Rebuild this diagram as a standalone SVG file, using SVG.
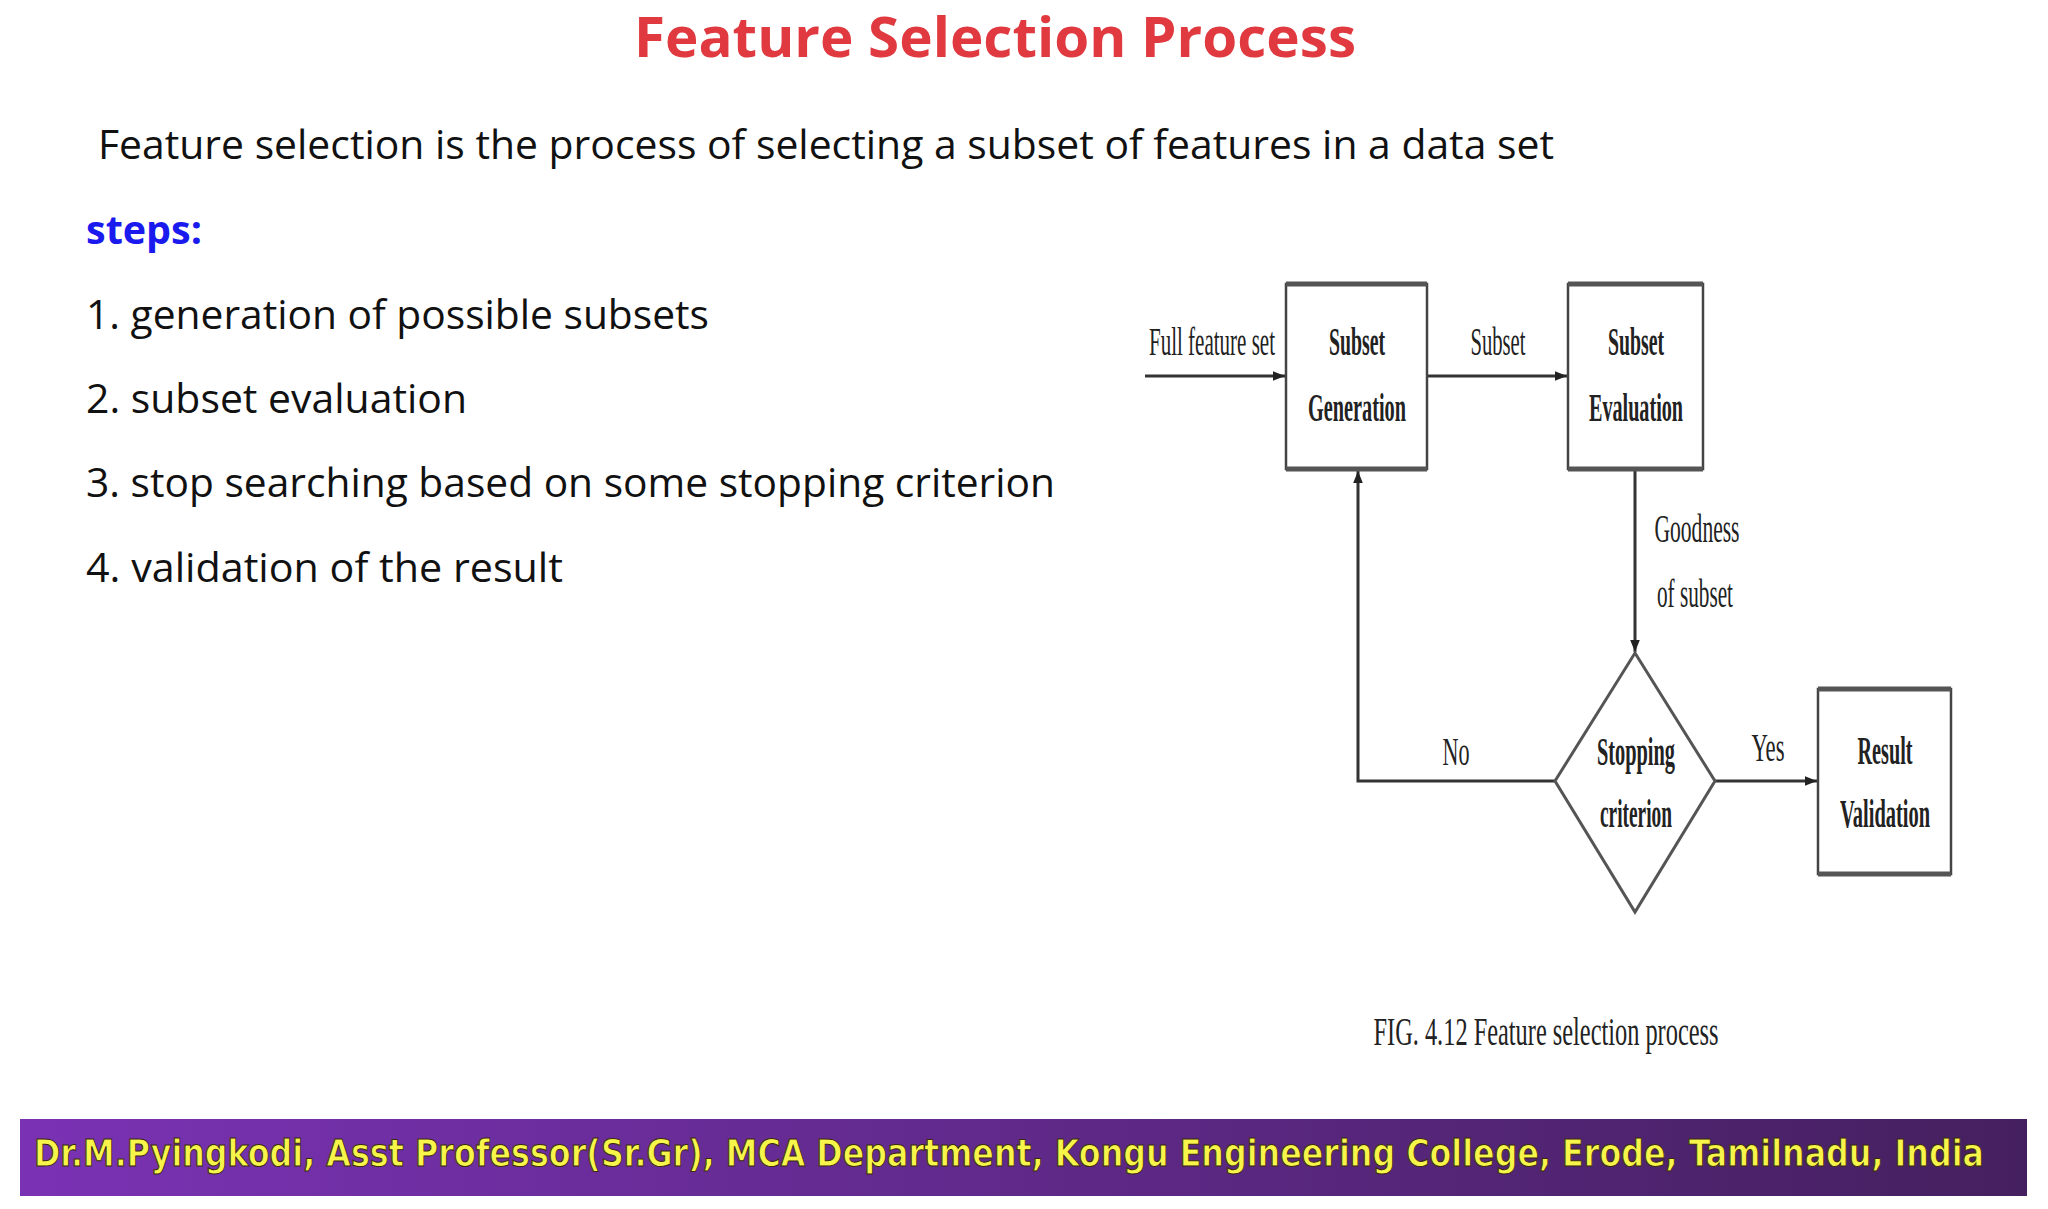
<svg xmlns="http://www.w3.org/2000/svg" width="2048" height="1209" viewBox="0 0 2048 1209">
<defs>
<linearGradient id="band" x1="0" x2="1"><stop offset="0" stop-color="#7a32b4"/><stop offset="1" stop-color="#45205f"/></linearGradient>
<marker id="ah" viewBox="0 0 10 10" refX="10" refY="5" markerWidth="12" markerHeight="12" markerUnits="userSpaceOnUse" orient="auto"><path d="M0,1 L10,5 L0,9 Z" fill="#222"/></marker>
</defs>
<style>
.t{font-family:"Open Sans","Noto Sans",sans-serif;font-size:40px;fill:#111}
.d{font-family:"Liberation Serif",serif;font-size:40px;fill:#222}
.b{font-weight:bold}
.box{fill:#fff;stroke:#444;stroke-width:2.5}
.edge{stroke:#333;fill:none;stroke-width:3}
.thick{stroke:#555;stroke-width:5}
</style>
<rect width="2048" height="1209" fill="#fff"/>
<text x="995" y="57" text-anchor="middle" font-family="Open Sans,Noto Sans,sans-serif" font-weight="bold" font-size="56" fill="#e0393f" textLength="722" lengthAdjust="spacingAndGlyphs">Feature Selection Process</text>
<text class="t" x="98" y="159" textLength="1456" lengthAdjust="spacingAndGlyphs">Feature selection is the process of selecting a subset of features in a data set</text>
<text class="t b" x="86" y="244" style="fill:#1a1aee" textLength="116" lengthAdjust="spacingAndGlyphs">steps:</text>
<text class="t" x="86" y="329" textLength="623" lengthAdjust="spacingAndGlyphs">1. generation of possible subsets</text>
<text class="t" x="86" y="413" textLength="381" lengthAdjust="spacingAndGlyphs">2. subset evaluation</text>
<text class="t" x="86" y="497" textLength="969" lengthAdjust="spacingAndGlyphs">3. stop searching based on some stopping criterion</text>
<text class="t" x="86" y="582" textLength="477" lengthAdjust="spacingAndGlyphs">4. validation of the result</text>
<g id="connectors">
<line class="edge" x1="1145" y1="376" x2="1285" y2="376" marker-end="url(#ah)"/>
<line class="edge" x1="1427" y1="376" x2="1567" y2="376" marker-end="url(#ah)"/>
<line class="edge" x1="1635" y1="469" x2="1635" y2="652" stroke-width="2" marker-end="url(#ah)"/>
<polyline class="edge" points="1555,781 1358,781 1358,471" marker-end="url(#ah)"/>
<line class="edge" x1="1715" y1="781" x2="1817" y2="781" marker-end="url(#ah)"/>
<text class="d" x="1212" y="355" text-anchor="middle" textLength="126" lengthAdjust="spacingAndGlyphs">Full feature set</text>
<text class="d" x="1498" y="355" text-anchor="middle" textLength="55" lengthAdjust="spacingAndGlyphs">Subset</text>
<text class="d" x="1697" y="542" text-anchor="middle" textLength="85" lengthAdjust="spacingAndGlyphs">Goodness</text>
<text class="d" x="1695" y="607" text-anchor="middle" textLength="76" lengthAdjust="spacingAndGlyphs">of subset</text>
<text class="d" x="1456" y="765" text-anchor="middle" textLength="27" lengthAdjust="spacingAndGlyphs">No</text>
<text class="d" x="1768" y="761" text-anchor="middle" textLength="33" lengthAdjust="spacingAndGlyphs">Yes</text>
</g>
<g id="gen">
<rect class="box" x="1286" y="284" width="141" height="185"/>
<line class="thick" x1="1286" y1="284" x2="1427" y2="284"/><line class="thick" x1="1286" y1="469" x2="1427" y2="469"/>
<text class="d b" x="1357" y="355" text-anchor="middle" textLength="56" lengthAdjust="spacingAndGlyphs">Subset</text>
<text class="d b" x="1357" y="421" text-anchor="middle" textLength="98" lengthAdjust="spacingAndGlyphs">Generation</text>
</g>
<g id="eval">
<rect class="box" x="1568" y="284" width="135" height="185"/>
<line class="thick" x1="1568" y1="284" x2="1703" y2="284"/><line class="thick" x1="1568" y1="469" x2="1703" y2="469"/>
<text class="d b" x="1636" y="355" text-anchor="middle" textLength="56" lengthAdjust="spacingAndGlyphs">Subset</text>
<text class="d b" x="1636" y="421" text-anchor="middle" textLength="94" lengthAdjust="spacingAndGlyphs">Evaluation</text>
</g>
<g id="stop">
<polygon points="1635,653 1715,781 1635,912 1555,781" fill="#fff" stroke="#555" stroke-width="3"/>
<text class="d b" x="1636" y="765" text-anchor="middle" textLength="78" lengthAdjust="spacingAndGlyphs">Stopping</text>
<text class="d b" x="1636" y="827" text-anchor="middle" textLength="72" lengthAdjust="spacingAndGlyphs">criterion</text>
</g>
<g id="result">
<rect class="box" x="1818" y="689" width="133" height="185"/>
<line class="thick" x1="1818" y1="689" x2="1951" y2="689"/><line class="thick" x1="1818" y1="874" x2="1951" y2="874"/>
<text class="d b" x="1885" y="764" text-anchor="middle" textLength="55" lengthAdjust="spacingAndGlyphs">Result</text>
<text class="d b" x="1885" y="827" text-anchor="middle" textLength="90" lengthAdjust="spacingAndGlyphs">Validation</text>
</g>
<text class="d" x="1546" y="1045" text-anchor="middle" font-size="42" textLength="345" lengthAdjust="spacingAndGlyphs">FIG. 4.12 Feature selection process</text>
<rect x="20" y="1119" width="2007" height="77" fill="url(#band)"/>
<text x="34" y="1166" font-family="DejaVu Sans Condensed,DejaVu Sans,sans-serif" font-weight="bold" font-size="38" fill="#f7f44a" stroke="#3a2a10" stroke-width="1" textLength="1950" lengthAdjust="spacingAndGlyphs">Dr.M.Pyingkodi, Asst Professor(Sr.Gr), MCA Department, Kongu Engineering College, Erode, Tamilnadu, India</text>
</svg>
